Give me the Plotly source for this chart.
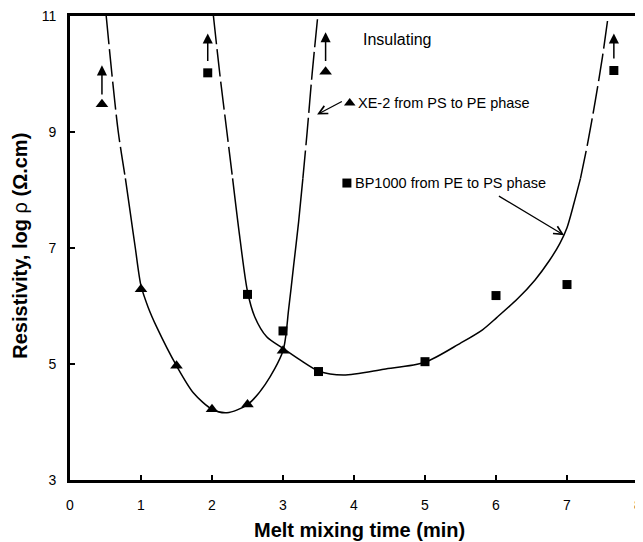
import plotly.graph_objects as go

# ---- measured data points ----
xe2_x = [0.45, 1.0, 1.5, 2.0, 2.5, 3.0, 3.6]
xe2_y = [9.48, 6.29, 4.97, 4.22, 4.30, 5.23, 10.04]
bp_x = [1.94, 2.5, 3.0, 3.5, 5.0, 6.0, 7.0, 7.66]
bp_y = [10.02, 6.20, 5.57, 4.87, 5.04, 6.18, 6.37, 10.06]

# ---- fitted curves ----
xe2_left_dash_x = [0.51, 0.59, 0.68, 0.78]
xe2_left_dash_y = [11.0, 10.0, 9.0, 8.2]
xe2_solid_x = [0.78, 0.85, 0.92, 1.0, 1.1, 1.22, 1.5, 1.74, 2.0, 2.21, 2.5, 2.75, 3.0, 3.08, 3.15, 3.22, 3.28]
xe2_solid_y = [8.2, 7.6, 7.0, 6.35, 5.98, 5.64, 4.97, 4.50, 4.22, 4.16, 4.30, 4.65, 5.23, 5.95, 6.70, 7.45, 8.2]
xe2_right_dash_x = [3.28, 3.34, 3.41, 3.49]
xe2_right_dash_y = [8.2, 9.0, 10.0, 11.0]

bp_left_dash_x = [2.02, 2.11, 2.21, 2.29]
bp_left_dash_y = [11.0, 10.0, 9.0, 8.2]
bp_solid_x = [2.29, 2.39, 2.5, 2.6, 2.77, 3.0, 3.24, 3.5, 3.85, 4.42, 5.0, 5.5, 5.81, 6.01, 6.30, 6.55, 6.75, 6.90, 7.0, 7.10, 7.19]
bp_solid_y = [8.2, 7.2, 6.25, 5.82, 5.47, 5.27, 5.07, 4.88, 4.81, 4.91, 5.03, 5.36, 5.59, 5.80, 6.12, 6.45, 6.78, 7.08, 7.35, 7.78, 8.2]
bp_right_dash_x = [7.19, 7.29, 7.40, 7.50, 7.58]
bp_right_dash_y = [8.2, 8.8, 9.55, 10.3, 11.0]

# ---- "insulating" up arrows ----
up_x = [0.45, 1.94, 3.6, 7.66]
up_y0 = [9.62, 10.20, 10.20, 10.24]
up_y1 = [10.15, 10.70, 10.72, 10.70]

x_ticks = [0, 1, 2, 3, 4, 5, 6, 7, 8]
y_ticks = [3, 5, 7, 9, 11]

FONT = "Liberation Sans, Arial, Helvetica, sans-serif"
BLACK = "#000000"
DASH = "28px,5px"

fig = go.Figure()

def line(xs, ys, dash):
    fig.add_trace(go.Scatter(x=xs, y=ys, mode="lines",
                             line=dict(color=BLACK, width=1.5, dash=dash, shape="spline", smoothing=0.8),
                             showlegend=False, hoverinfo="skip"))

line(xe2_left_dash_x, xe2_left_dash_y, DASH)
line(xe2_solid_x, xe2_solid_y, "solid")
line(xe2_right_dash_x, xe2_right_dash_y, DASH)
line(bp_left_dash_x, bp_left_dash_y, DASH)
line(bp_solid_x, bp_solid_y, "solid")
line(bp_right_dash_x, bp_right_dash_y, DASH)

fig.add_trace(go.Scatter(x=xe2_x, y=xe2_y, mode="markers",
                         marker=dict(symbol="triangle-up", size=11, color=BLACK),
                         showlegend=False, cliponaxis=False))
fig.add_trace(go.Scatter(x=bp_x, y=bp_y, mode="markers",
                         marker=dict(symbol="square", size=9, color=BLACK),
                         showlegend=False, cliponaxis=False))

# label markers
fig.add_trace(go.Scatter(x=[3.94], y=[9.5], mode="markers",
                         marker=dict(symbol="triangle-up", size=10, color=BLACK), showlegend=False))
fig.add_trace(go.Scatter(x=[3.90], y=[8.12], mode="markers",
                         marker=dict(symbol="square", size=9, color=BLACK), showlegend=False))

annotations = []
for xi, y0, y1 in zip(up_x, up_y0, up_y1):
    annotations.append(dict(x=xi, y=y1, ax=xi, ay=y0, xref="x", yref="y", axref="x", ayref="y",
                            text="", showarrow=True, arrowhead=2, arrowsize=1.35, arrowwidth=1.5,
                            arrowcolor=BLACK))

annotations += [
    dict(x=4.10, y=10.6, xref="x", yref="y", text="Insulating", showarrow=False,
         xanchor="left", yanchor="middle", font=dict(family=FONT, size=16, color=BLACK)),
    dict(x=4.03, y=9.5, xref="x", yref="y", text="XE-2 from PS to PE phase", showarrow=False,
         xanchor="left", yanchor="middle", font=dict(family=FONT, size=14.5, color=BLACK)),
    dict(x=3.98, y=8.12, xref="x", yref="y", text="BP1000 from PE to PS phase", showarrow=False,
         xanchor="left", yanchor="middle", font=dict(family=FONT, size=14.5, color=BLACK)),
    dict(x=3.48, y=9.30, ax=3.85, ay=9.54, xref="x", yref="y", axref="x", ayref="y",
         text="", showarrow=True, arrowhead=5, arrowsize=1.3, arrowwidth=1.3, arrowcolor=BLACK),
    dict(x=6.96, y=7.22, ax=6.02, ay=7.91, xref="x", yref="y", axref="x", ayref="y",
         text="", showarrow=True, arrowhead=5, arrowsize=1.3, arrowwidth=1.3, arrowcolor=BLACK),
    dict(x=0.509, y=-0.107, xref="paper", yref="paper", text="<b>Melt mixing time (min)</b>",
         showarrow=False, xanchor="center", yanchor="middle",
         font=dict(family=FONT, size=20, color=BLACK)),
    dict(x=-0.088, y=0.505, xref="paper", yref="paper",
         text="<b>Resistivity, log</b> ρ <b>(Ω.cm)</b>", textangle=-90,
         showarrow=False, xanchor="center", yanchor="middle",
         font=dict(family=FONT, size=20, color=BLACK)),
]

# the page body adds an 8 px offset, so the figure is sized to fill the window after it
fig.update_layout(
    width=635, height=534,
    margin=dict(l=62, r=5, t=8, b=62),
    paper_bgcolor="white", plot_bgcolor="white",
    showlegend=False,
    annotations=annotations,
    font=dict(family=FONT, color=BLACK),
)
fig.update_xaxes(range=[0, 8], tickvals=x_ticks, ticktext=[str(v) for v in x_ticks],
                 automargin=False, ticklabeloverflow="allow",
                 showgrid=False, zeroline=False, showline=True, linewidth=3, linecolor=BLACK,
                 mirror=True, ticks="inside", ticklen=5, tickwidth=2, tickcolor=BLACK,
                 ticklabelstandoff=10, tickfont=dict(family=FONT, size=14, color=BLACK))
fig.update_yaxes(range=[3, 11], tickvals=y_ticks, ticktext=[str(v) for v in y_ticks],
                 automargin=False, ticklabeloverflow="allow",
                 showgrid=False, zeroline=False, showline=True, linewidth=3, linecolor=BLACK,
                 mirror=True, ticks="inside", ticklen=5, tickwidth=2, tickcolor=BLACK,
                 ticklabelstandoff=8, tickfont=dict(family=FONT, size=14, color=BLACK))

fig.write_html("out.html")
